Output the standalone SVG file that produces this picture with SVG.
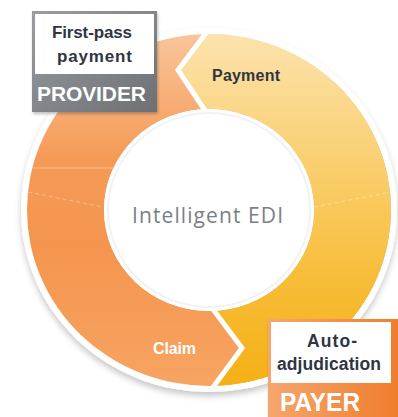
<svg xmlns="http://www.w3.org/2000/svg" width="398" height="417" viewBox="0 0 398 417">
  <defs>
    <linearGradient id="gOrange" gradientUnits="userSpaceOnUse" x1="0" y1="34" x2="0" y2="386">
      <stop offset="0" stop-color="#f9c59b"/>
      <stop offset="0.35" stop-color="#f59b57"/>
      <stop offset="0.6" stop-color="#f4954e"/>
      <stop offset="1" stop-color="#f7a462"/>
    </linearGradient>
    <linearGradient id="gYellow" gradientUnits="userSpaceOnUse" x1="0" y1="34" x2="0" y2="386">
      <stop offset="0" stop-color="#fce3ad"/>
      <stop offset="0.4" stop-color="#f9cd6a"/>
      <stop offset="0.7" stop-color="#f7bd38"/>
      <stop offset="1" stop-color="#f5b015"/>
    </linearGradient>
    <linearGradient id="gGray" x1="0" y1="0" x2="1" y2="1">
      <stop offset="0" stop-color="#9a9da2"/>
      <stop offset="1" stop-color="#6c6f74"/>
    </linearGradient>
    <linearGradient id="gPayer" x1="0" y1="0" x2="1" y2="0">
      <stop offset="0" stop-color="#f6a66e"/>
      <stop offset="1" stop-color="#ef7d2b"/>
    </linearGradient>
    <filter id="shadow" x="-10%" y="-10%" width="120%" height="125%">
      <feDropShadow dx="0" dy="4" stdDeviation="3" flood-color="#000" flood-opacity="0.22"/>
    </filter>
    <filter id="boxShadow" x="-10%" y="-10%" width="130%" height="130%">
      <feDropShadow dx="1" dy="2" stdDeviation="1.5" flood-color="#000" flood-opacity="0.25"/>
    </filter>
    <style>
      .dark { font-family: "Liberation Sans", Arial, sans-serif; font-weight: bold; fill: #2f3542; }
      .white { font-family: "Liberation Sans", Arial, sans-serif; font-weight: bold; fill: #ffffff; }
      .sep { fill: none; stroke: #ffffff; stroke-width: 5; stroke-linejoin: miter; }
      .faint { fill: none; stroke: #ffffff; stroke-opacity: 0.35; stroke-width: 1; }
    </style>
  </defs>

  <!-- outer white rim with shadow -->
  <ellipse cx="209" cy="210" rx="188" ry="182" fill="#ffffff" filter="url(#shadow)"/>

  <g id="seg-claim">
    <path fill="url(#gOrange)" fill-rule="evenodd" d="M27,210 A182,176 0 1,1 391,210 A182,176 0 1,1 27,210 Z M104,210 A105,101 0 1,0 314,210 A105,101 0 1,0 104,210 Z"/>
    <line class="faint" x1="33" y1="168" x2="120" y2="168"/>
    <line class="faint" x1="28" y1="192" x2="103" y2="207" stroke-dasharray="4,3"/>
    <text class="white" x="174.5" y="354" font-size="16" text-anchor="middle" textLength="43">Claim</text>
  </g>

  <g id="seg-payment">
    <path fill="url(#gYellow)" d="M207,34 A182,176 0 0,1 391,210 A182,176 0 0,1 213,386 L242,348 L213,311 A105,101 0 0,0 314,210 A105,101 0 0,0 205,109 L178,70 Z"/>
    <line class="faint" x1="314" y1="207" x2="391" y2="192" stroke-dasharray="4,3"/>
    <text class="dark" x="246" y="81" font-size="16" text-anchor="middle" textLength="68">Payment</text>
  </g>

  <g id="connectors">
    <polyline class="sep" points="209,29 178,70 206,112"/>
    <polyline class="sep" points="212,308 242,348 211,390"/>
  </g>

  <g id="center">
    <ellipse cx="209" cy="210" rx="105" ry="101" fill="#ffffff"/>
    <ellipse cx="209" cy="210" rx="101" ry="97" fill="none" stroke="#f2f2f2" stroke-width="2"/>
    <text x="207.5" y="223" font-family="'Open Sans', 'Liberation Sans', sans-serif" font-size="21" fill="#7a7f86" text-anchor="middle" textLength="151">Intelligent EDI</text>
  </g>

  <g id="node-provider">
    <rect x="32" y="11" width="125" height="101" fill="url(#gGray)" filter="url(#boxShadow)"/>
    <rect x="35" y="14" width="119" height="60" fill="#ffffff"/>
    <text class="dark" x="92" y="38" font-size="17" text-anchor="middle" textLength="80">First-pass</text>
    <text class="dark" x="94.5" y="61.5" font-size="17" text-anchor="middle" textLength="75">payment</text>
    <text class="white" x="91.5" y="101" font-size="21" text-anchor="middle" textLength="109">PROVIDER</text>
  </g>

  <g id="node-payer">
    <rect x="268" y="319" width="132" height="100" fill="url(#gPayer)" filter="url(#boxShadow)"/>
    <rect x="271" y="322" width="120" height="61" fill="#ffffff"/>
    <text class="dark" x="332" y="347" font-size="17.5" text-anchor="middle" textLength="50">Auto-</text>
    <text class="dark" x="329" y="370" font-size="17.5" text-anchor="middle" textLength="104">adjudication</text>
    <text class="white" x="320" y="410.5" font-size="25" text-anchor="middle" textLength="80" lengthAdjust="spacingAndGlyphs">PAYER</text>
  </g>
</svg>
